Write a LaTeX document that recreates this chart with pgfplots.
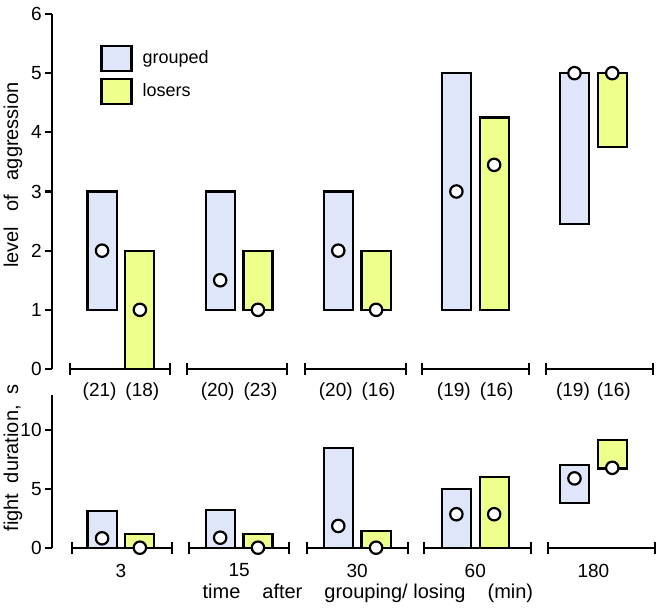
\documentclass[border=0pt]{standalone}
\usepackage{fontspec}
\setmainfont{Liberation Sans}
\usepackage{pgfplots}
\pgfplotsset{compat=1.18}

\definecolor{grpfill}{RGB}{224,230,250}
\definecolor{losfill}{RGB}{238,255,140}

\tikzset{
  grp/.style={fill=grpfill, draw=black, line width=1.1pt},
  los/.style={fill=losfill, draw=black, line width=1.1pt},
}
\pgfplotsset{
  med/.style={only marks, mark=*, mark size=3.1pt,
    mark options={fill=white, draw=black, line width=1.1pt}},
  seg/.style={black, line width=1.1pt, mark=|, mark size=3pt},
  panel/.style={
    scale only axis, width=303.75pt, xmin=0.416, xmax=5.56, clip=false,
    axis y line*=left, axis x line*=bottom,
    x axis line style={draw=none}, y axis line style={line width=1.1pt},
    xtick={1,...,5}, xtick style={draw=none},
    tick align=outside, major tick length=3.5pt,
    ytick style={line width=1.1pt, black},
    tick label style={font=\fontsize{9.5}{11}\selectfont},
    /pgf/number format/assume math mode=true,
    yticklabel style={inner sep=1.5pt},
    ylabel style={font=\fontsize{10}{12}\selectfont, anchor=center},
    xlabel style={font=\fontsize{10}{12}\selectfont, anchor=center},
  },
}
% range bar: style, left x, right x, low, high
\newcommand{\rbar}[5]{\addplot[#1, forget plot] coordinates {(#2,#4) (#3,#4) (#3,#5) (#2,#5)} -- cycle;}

\begin{document}
\begin{tikzpicture}
\useasboundingbox (-26pt,-119.5pt) rectangle (305pt,184.5pt);
% ---- level of aggression
\begin{axis}[panel,
  at={(0,0)}, anchor=south west,
  height=177.5pt, ymin=0, ymax=6, ytick={0,...,6},
  xticklabels={{(21)\hspace{4.5pt}(18)},{(20)\hspace{4.5pt}(23)},{(20)\hspace{4.5pt}(16)},{(19)\hspace{4.5pt}(16)},{(19)\hspace{3.5pt}(16)}},
  ylabel={level\hspace{7.5pt}of\hspace{7.5pt}aggression},
  ylabel style={at={(axis description cs:-0.0642,0.546)}},
  legend style={at={(axis cs:0.823,5.49)}, anchor=north west, draw=none, fill=none,
    inner sep=0pt, row sep=3pt, column sep=3pt, font=\fontsize{9}{11}\selectfont},
  legend cell align=left,
  legend image code/.code={\draw[#1] (0pt,-6.25pt) rectangle (15pt,6.25pt);},
]
\addlegendimage{grp}\addlegendentry{grouped}
\addlegendimage{los}\addlegendentry{losers}

\rbar{grp}{0.717}{0.963}{1}{3}
\rbar{grp}{1.717}{1.963}{1}{3}
\rbar{grp}{2.717}{2.963}{1}{3}
\rbar{grp}{3.717}{3.963}{1}{5}
\rbar{grp}{4.717}{4.963}{2.45}{5}

\rbar{los}{1.037}{1.283}{0}{2}
\rbar{los}{2.037}{2.283}{1}{2}
\rbar{los}{3.037}{3.283}{1}{2}
\rbar{los}{4.037}{4.283}{1}{4.25}
\rbar{los}{5.037}{5.283}{3.75}{5}

\addplot[seg, forget plot] coordinates {(0.568,0) (1.415,0)};
\addplot[seg, forget plot] coordinates {(1.559,0) (2.406,0)};
\addplot[seg, forget plot] coordinates {(2.558,0) (3.413,0)};
\addplot[seg, forget plot] coordinates {(3.549,0) (4.455,0)};
\addplot[seg, forget plot] coordinates {(4.599,0) (5.505,0)};

% medians
\addplot[med, forget plot] coordinates {(0.84,2) (1.84,1.5) (2.84,2) (3.84,3) (4.84,5)};
\addplot[med, forget plot] coordinates {(1.16,1) (2.16,1) (3.16,1) (4.16,3.45) (5.16,5)};
\end{axis}

% ---- fight duration
\begin{axis}[panel,
  at={(0,-89.35pt)}, anchor=south west,
  height=76.35pt, ymin=0, ymax=13, ytick={0,5,10},
  xticklabels={3,15,30,60,180},
  xticklabel style={yshift=-1pt},
  ylabel={fight\hspace{5.25pt}duration,\hspace{5.25pt}s},
  ylabel style={at={(axis description cs:-0.0642,0.587)}},
  xlabel={time\hspace{11pt}after\hspace{11pt}grouping/ losing\hspace{11pt}(min)},
  xlabel style={at={(axis description cs:0.52,-0.30)}},
]
\rbar{grp}{0.717}{0.963}{0}{3.1}
\rbar{grp}{1.717}{1.963}{0}{3.2}
\rbar{grp}{2.717}{2.963}{0}{8.5}
\rbar{grp}{3.717}{3.963}{0}{5}
\rbar{grp}{4.717}{4.963}{3.8}{7.05}

\rbar{los}{1.037}{1.283}{0}{1.2}
\rbar{los}{2.037}{2.283}{0}{1.2}
\rbar{los}{3.037}{3.283}{0}{1.45}
\rbar{los}{4.037}{4.283}{0}{6}
\rbar{los}{5.037}{5.283}{6.75}{9.2}

\addplot[seg] coordinates {(0.585,0) (1.432,0)};
\addplot[seg] coordinates {(1.576,0) (2.423,0)};
\addplot[seg] coordinates {(2.575,0) (3.430,0)};
\addplot[seg] coordinates {(3.566,0) (4.472,0)};
\addplot[seg] coordinates {(4.616,0) (5.522,0)};

\addplot[med] coordinates {(0.84,0.8) (1.84,0.85) (2.84,1.85) (3.84,2.85) (4.84,5.9)};
\addplot[med] coordinates {(1.16,0) (2.16,0) (3.16,0) (4.16,2.85) (5.16,6.8)};
\end{axis}
\end{tikzpicture}
\end{document}
